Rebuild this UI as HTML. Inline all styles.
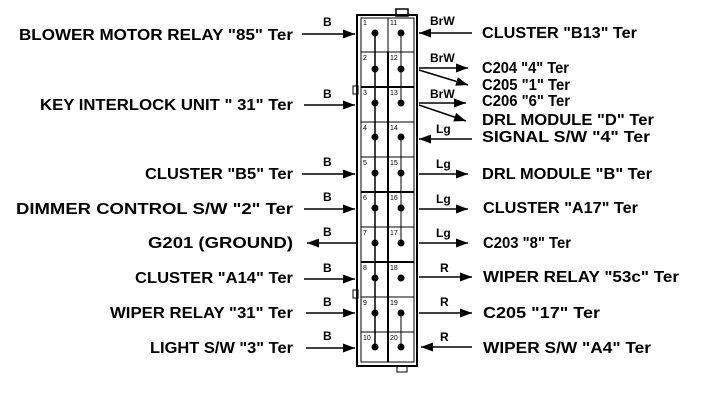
<!DOCTYPE html>
<html><head><style>
body{margin:0;background:#fff}
svg{display:block}
text{font-family:"Liberation Sans",Arial,sans-serif;font-size:15.5px;fill:#000;font-weight:bold}
.w{font-size:12px;font-weight:bold}
.n{font-size:7px;font-weight:normal}
</style></head><body>
<svg width="704" height="418" viewBox="0 0 704 418" xmlns="http://www.w3.org/2000/svg">
<defs><marker id="a" markerWidth="8" markerHeight="6" refX="8" refY="3" orient="auto"><path d="M0,0L8,3L0,6z" fill="#000"/></marker></defs>
<g stroke="#000" fill="none">
<rect x="357" y="15" width="60" height="351" stroke-width="2"/>
<rect x="361" y="18" width="53" height="344" stroke-width="1"/>
<rect x="396" y="9" width="12" height="7" stroke-width="1.5"/>
<rect x="353" y="86" width="5" height="8"/>
<rect x="353" y="290" width="5" height="8"/>
<rect x="397" y="366" width="10" height="6"/>
<line x1="388" y1="18" x2="388" y2="362"/>
<line x1="388" y1="52" x2="388" y2="362" stroke-width="2"/>
<g stroke-width="1">
<line x1="361" y1="52" x2="414" y2="52"/><line x1="361" y1="87" x2="414" y2="87" stroke-width="2"/>
<line x1="361" y1="122" x2="414" y2="122"/><line x1="361" y1="157" x2="414" y2="157"/>
<line x1="361" y1="192" x2="414" y2="192" stroke-width="2"/><line x1="361" y1="227" x2="414" y2="227"/>
<line x1="361" y1="262" x2="414" y2="262" stroke-width="2"/><line x1="361" y1="297" x2="414" y2="297"/>
<line x1="361" y1="332" x2="414" y2="332"/>
</g>
<line x1="375" y1="33" x2="375" y2="347" stroke-width="1.5"/>
<line x1="401" y1="33" x2="401" y2="69"/><line x1="401" y1="69" x2="401" y2="103"/>
<line x1="401" y1="137" x2="401" y2="243"/><line x1="401" y1="313" x2="401" y2="347"/>
</g>
<g fill="#000">
<circle cx="375" cy="33" r="3.5"/><circle cx="401" cy="33" r="3.5"/>
<circle cx="375" cy="69" r="3.5"/><circle cx="401" cy="69" r="3.5"/>
<circle cx="375" cy="103" r="3.5"/><circle cx="401" cy="103" r="3.5"/>
<circle cx="375" cy="137" r="3.5"/><circle cx="401" cy="137" r="3.5"/>
<circle cx="375" cy="173" r="3.5"/><circle cx="401" cy="173" r="3.5"/>
<circle cx="375" cy="208" r="3.5"/><circle cx="401" cy="208" r="3.5"/>
<circle cx="375" cy="243" r="3.5"/><circle cx="401" cy="243" r="3.5"/>
<circle cx="375" cy="278" r="3.5"/><circle cx="401" cy="278" r="3.5"/>
<circle cx="375" cy="313" r="3.5"/><circle cx="401" cy="313" r="3.5"/>
<circle cx="375" cy="347" r="3.5"/><circle cx="401" cy="347" r="3.5"/>
</g>
<g>
<text x="363" y="25" class="n">1</text><text x="390" y="25" class="n">11</text>
<text x="363" y="60" class="n">2</text><text x="390" y="60" class="n">12</text>
<text x="363" y="95" class="n">3</text><text x="390" y="95" class="n">13</text>
<text x="363" y="130" class="n">4</text><text x="390" y="130" class="n">14</text>
<text x="363" y="165" class="n">5</text><text x="390" y="165" class="n">15</text>
<text x="363" y="200" class="n">6</text><text x="390" y="200" class="n">16</text>
<text x="363" y="235" class="n">7</text><text x="390" y="235" class="n">17</text>
<text x="363" y="270" class="n">8</text><text x="390" y="270" class="n">18</text>
<text x="363" y="305" class="n">9</text><text x="390" y="305" class="n">19</text>
<text x="363" y="340" class="n">10</text><text x="390" y="340" class="n">20</text>
</g>
<g stroke="#000" stroke-width="1.5" marker-end="url(#a)">
<line x1="302" y1="34" x2="355" y2="34"/>
<line x1="304" y1="105" x2="355" y2="105"/>
<line x1="302" y1="174" x2="355" y2="174"/>
<line x1="304" y1="209" x2="355" y2="209"/>
<line x1="357" y1="243" x2="307" y2="243"/>
<line x1="304" y1="279" x2="355" y2="279"/>
<line x1="306" y1="313" x2="355" y2="313"/>
<line x1="306" y1="348" x2="355" y2="348"/>
<line x1="472" y1="33" x2="419" y2="33"/>
<line x1="419" y1="68" x2="468" y2="68"/>
<line x1="419" y1="70" x2="468" y2="85"/>
<line x1="419" y1="103" x2="466" y2="103"/>
<line x1="419" y1="105" x2="466" y2="121"/>
<line x1="472" y1="139" x2="419" y2="139"/>
<line x1="419" y1="174" x2="468" y2="174"/>
<line x1="419" y1="209" x2="468" y2="209"/>
<line x1="419" y1="243" x2="468" y2="243"/>
<line x1="419" y1="277" x2="472" y2="277"/>
<line x1="419" y1="313" x2="472" y2="313"/>
<line x1="472" y1="347" x2="421" y2="347"/>
</g>
<g>
<text x="323" y="26" class="w">B</text><text x="323" y="98" class="w">B</text>
<text x="323" y="166" class="w">B</text><text x="323" y="201" class="w">B</text>
<text x="323" y="236" class="w">B</text><text x="323" y="272" class="w">B</text>
<text x="323" y="306" class="w">B</text><text x="323" y="340" class="w">B</text>
<text x="430" y="25" class="w">BrW</text><text x="430" y="62" class="w">BrW</text>
<text x="430" y="98" class="w">BrW</text><text x="436" y="133" class="w">Lg</text>
<text x="436" y="168" class="w">Lg</text><text x="436" y="203" class="w">Lg</text>
<text x="436" y="237" class="w">Lg</text><text x="440" y="272" class="w">R</text>
<text x="440" y="306" class="w">R</text><text x="440" y="341" class="w">R</text>
</g>
<g>
<text x="19" y="40" textLength="274" lengthAdjust="spacingAndGlyphs">BLOWER MOTOR RELAY "85" Ter</text>
<text x="40" y="110" textLength="253" lengthAdjust="spacingAndGlyphs">KEY INTERLOCK UNIT " 31" Ter</text>
<text x="145" y="179" textLength="148" lengthAdjust="spacingAndGlyphs">CLUSTER "B5" Ter</text>
<text x="16" y="214" textLength="277" lengthAdjust="spacingAndGlyphs">DIMMER CONTROL S/W "2" Ter</text>
<text x="148" y="248" textLength="145" lengthAdjust="spacingAndGlyphs">G201 (GROUND)</text>
<text x="135" y="283" textLength="158" lengthAdjust="spacingAndGlyphs">CLUSTER "A14" Ter</text>
<text x="110" y="318" textLength="183" lengthAdjust="spacingAndGlyphs">WIPER RELAY "31" Ter</text>
<text x="150" y="353" textLength="143" lengthAdjust="spacingAndGlyphs">LIGHT S/W "3" Ter</text>
<text x="482" y="38" textLength="155" lengthAdjust="spacingAndGlyphs">CLUSTER "B13" Ter</text>
<text x="482" y="73" textLength="87" lengthAdjust="spacingAndGlyphs">C204 "4" Ter</text>
<text x="482" y="90" textLength="88" lengthAdjust="spacingAndGlyphs">C205 "1" Ter</text>
<text x="482" y="106" textLength="88" lengthAdjust="spacingAndGlyphs">C206 "6" Ter</text>
<text x="482" y="125" textLength="172" lengthAdjust="spacingAndGlyphs">DRL MODULE "D" Ter</text>
<text x="482" y="142" textLength="168" lengthAdjust="spacingAndGlyphs">SIGNAL S/W "4" Ter</text>
<text x="482" y="179" textLength="170" lengthAdjust="spacingAndGlyphs">DRL MODULE "B" Ter</text>
<text x="483" y="213" textLength="155" lengthAdjust="spacingAndGlyphs">CLUSTER "A17" Ter</text>
<text x="483" y="248" textLength="88" lengthAdjust="spacingAndGlyphs">C203 "8" Ter</text>
<text x="483" y="282" textLength="196" lengthAdjust="spacingAndGlyphs">WIPER RELAY "53c" Ter</text>
<text x="483" y="318" textLength="117" lengthAdjust="spacingAndGlyphs">C205 "17" Ter</text>
<text x="483" y="353" textLength="168" lengthAdjust="spacingAndGlyphs">WIPER S/W "A4" Ter</text>
</g>
</svg>
</body></html>
